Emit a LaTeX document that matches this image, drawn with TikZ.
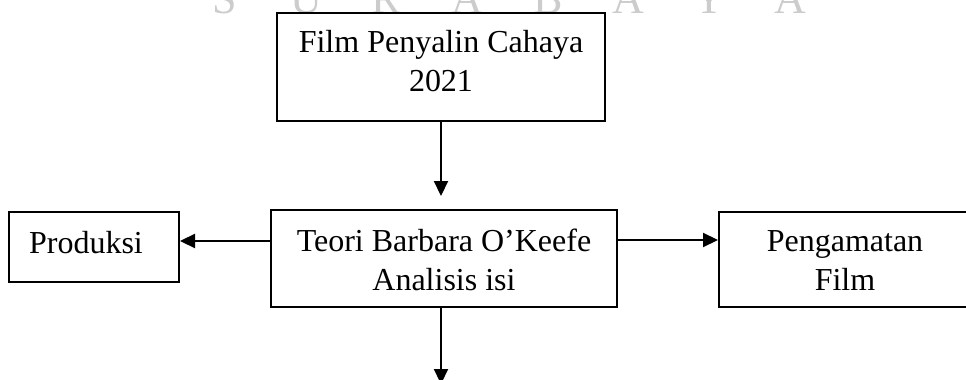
\documentclass[tikz,border=0pt]{standalone}
\usepackage{fontspec}
\setmainfont{Liberation Serif}
\usetikzlibrary{arrows.meta}
\begin{document}
\begin{tikzpicture}[x=0.5pt,y=-0.5pt,
  boxnode/.style={draw=black, line width=1pt, rectangle, inner sep=0pt},
  txt/.style={font=\fontsize{16}{19.5}\selectfont, align=center, inner sep=0pt},
  arr/.style={line width=1.1pt, -{Triangle[length=7.5pt,width=7pt]}},
  wm/.style={font=\fontsize{22}{26}\selectfont, text=black!20, inner sep=0pt, anchor=base}]
\useasboundingbox (0,0) rectangle (966,380);
\clip (0,0) rectangle (966,380);
% watermark
\foreach \l/\xx [count=\i] in {S/225,U/306,R/386,A/467,B/548,A/628,Y/709,A/790}
  \node[wm] (w\i) at (\xx,13) {\l};
% boxes
\node[boxnode, minimum width=164pt, minimum height=54pt] (top) at (441,66.5) {};
\node[boxnode, minimum width=172.75pt, minimum height=48.5pt] (mid) at (443.75,258.5) {};
\node[boxnode, minimum width=85pt, minimum height=35pt] (prod) at (94,247) {};
\node[boxnode, minimum width=126.5pt, minimum height=47.5pt] (peng) at (845.5,259.5) {};
% texts
\node[txt] (toptxt) at (441,61.25) {Film Penyalin Cahaya\\2021};
\node[txt] (midtxt) at (444,259.5) {Teori Barbara O’Keefe\\Analisis isi};
\node[txt, anchor=base] (prodtxt) at (86,253.3) {Produksi};
\node[txt] (pengtxt) at (845,260.9) {Pengamatan\\Film};
% connectors
\coordinate (endb) at (441,384);
\coordinate (ly) at (0,241);
\coordinate (ry) at (0,240);
\draw[arr, shorten >=6.5pt] (top.south) -- (top.south |- mid.north);
\draw[arr] (endb |- mid.south) -- (endb);
\draw[arr] (mid.west |- ly) -- (prod.east |- ly);
\draw[arr] (mid.east |- ry) -- (peng.west |- ry);
\end{tikzpicture}
\end{document}
